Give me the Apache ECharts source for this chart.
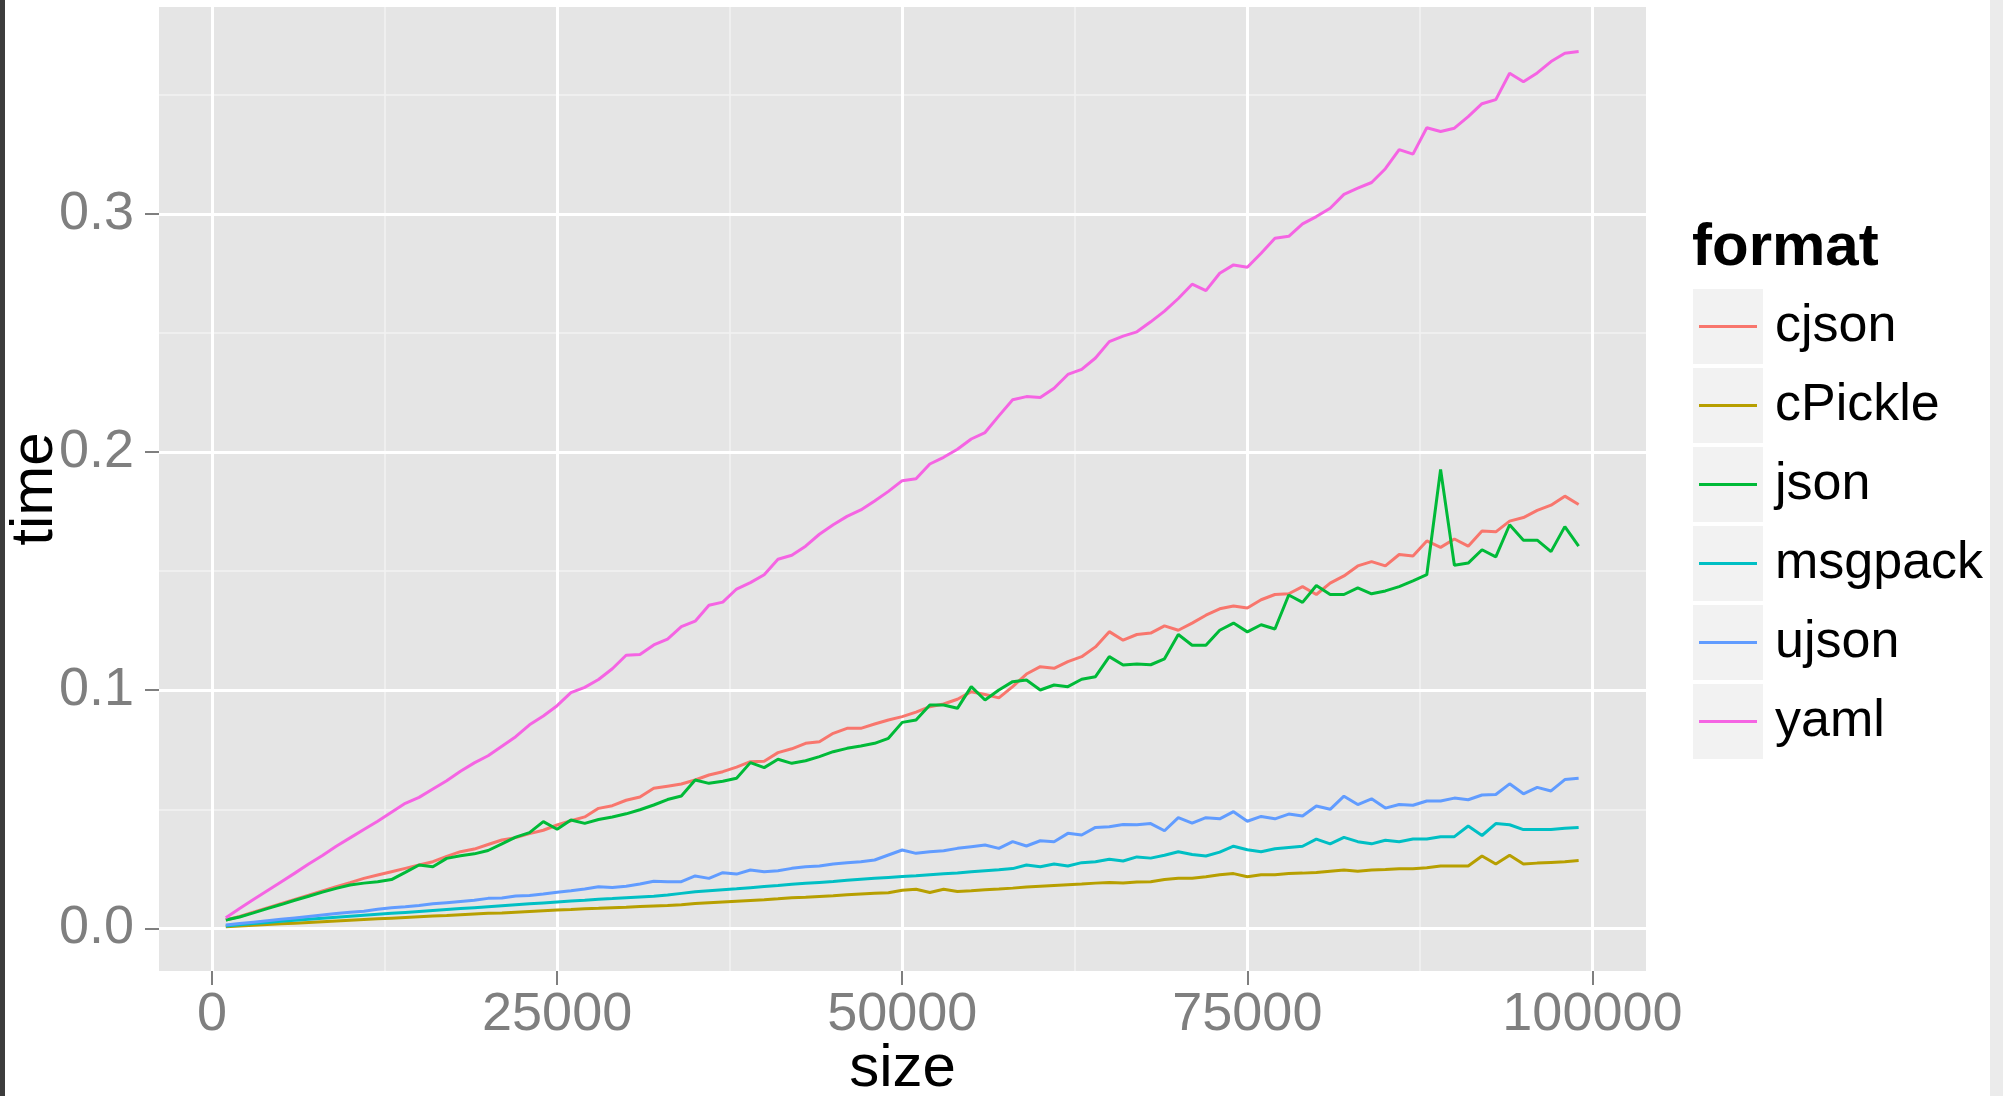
<!DOCTYPE html>
<html>
<head>
<meta charset="utf-8">
<script src="https://cdn.jsdelivr.net/npm/echarts@6/dist/echarts.min.js"></script>
<style>
html,body{margin:0;padding:0;background:#fff;}
#chart{width:2003px;height:1096px;}
</style>
</head>
<body>
<div id="chart"></div>
<script>
// ---- data ----
const sizes = [1000,2000,3000,4000,5000,6000,7000,8000,9000,10000,
11000,12000,13000,14000,15000,16000,17000,18000,19000,20000,
21000,22000,23000,24000,25000,26000,27000,28000,29000,30000,
31000,32000,33000,34000,35000,36000,37000,38000,39000,40000,
41000,42000,43000,44000,45000,46000,47000,48000,49000,50000,
51000,52000,53000,54000,55000,56000,57000,58000,59000,60000,
61000,62000,63000,64000,65000,66000,67000,68000,69000,70000,
71000,72000,73000,74000,75000,76000,77000,78000,79000,80000,
81000,82000,83000,84000,85000,86000,87000,88000,89000,90000,
91000,92000,93000,94000,95000,96000,97000,98000,99000];

const formats = ['cjson','cPickle','json','msgpack','ujson','yaml'];

const cjson = [0.0035,0.005,0.0068,0.0086,0.0104,0.0122,0.0139,0.0157,0.0175,0.0192,
0.021,0.0224,0.0238,0.0252,0.0266,0.028,0.0302,0.0322,0.0333,0.0352,
0.0371,0.0381,0.0398,0.0412,0.0434,0.0452,0.0468,0.0504,0.0515,0.0538,
0.0552,0.0588,0.0597,0.0606,0.0623,0.0644,0.0658,0.0677,0.07,0.0702,
0.0738,0.0754,0.0777,0.0784,0.0819,0.084,0.084,0.0858,0.0875,0.0889,
0.0908,0.0931,0.0942,0.0962,0.0994,0.0982,0.0968,0.1015,0.1068,0.1099,
0.1092,0.112,0.1141,0.1182,0.1246,0.121,0.1234,0.124,0.127,0.1252,
0.1282,0.1315,0.1342,0.1354,0.1345,0.138,0.1402,0.1405,0.1435,0.1402,
0.145,0.148,0.1522,0.154,0.1522,0.157,0.1564,0.1627,0.16,0.1635,
0.1605,0.1669,0.1665,0.171,0.1725,0.1755,0.1777,0.1815,0.178];

const cPickle = [0.0007,0.001,0.0013,0.0016,0.0019,0.0022,0.0025,0.0028,0.0031,0.0034,
0.0037,0.004,0.0043,0.0046,0.0049,0.0052,0.0054,0.0057,0.006,0.0063,
0.0065,0.0068,0.0071,0.0074,0.0077,0.0079,0.0082,0.0084,0.0087,0.0089,
0.0092,0.0094,0.0096,0.0099,0.0104,0.0108,0.0111,0.0114,0.0117,0.012,
0.0124,0.0129,0.0131,0.0134,0.0137,0.0141,0.0144,0.0147,0.015,0.016,
0.0164,0.0151,0.0164,0.0155,0.0158,0.0162,0.0165,0.0169,0.0174,0.0177,
0.018,0.0183,0.0186,0.019,0.0193,0.0191,0.0195,0.0196,0.0205,0.021,
0.021,0.0217,0.0225,0.023,0.0217,0.0225,0.0225,0.023,0.0232,0.0235,
0.024,0.0245,0.024,0.0245,0.0247,0.025,0.025,0.0255,0.0262,0.0262,
0.0262,0.0304,0.027,0.0307,0.027,0.0274,0.0277,0.028,0.0285];

const json = [0.0035,0.0048,0.0065,0.0083,0.01,0.0118,0.0135,0.0152,0.0168,0.0182,
0.019,0.0196,0.0205,0.0235,0.0266,0.0259,0.0294,0.0305,0.0313,0.0327,
0.0355,0.0383,0.0402,0.0448,0.0416,0.0455,0.0441,0.0457,0.0468,0.0481,
0.0498,0.0518,0.0541,0.0556,0.0623,0.0609,0.0618,0.063,0.0696,0.0675,
0.071,0.0693,0.0704,0.0721,0.0742,0.0756,0.0766,0.0777,0.0798,0.0865,
0.0875,0.0938,0.0938,0.0924,0.1015,0.0959,0.1001,0.1036,0.1043,0.1001,
0.1022,0.1015,0.1046,0.1057,0.1141,0.1106,0.111,0.1107,0.1132,0.1234,
0.1189,0.1189,0.1252,0.1282,0.1245,0.1275,0.1257,0.14,0.1369,0.144,
0.1402,0.1402,0.143,0.1405,0.1417,0.1435,0.1459,0.1485,0.1927,0.1525,
0.1534,0.159,0.156,0.1695,0.163,0.163,0.1582,0.1687,0.1605];

const msgpack = [0.001,0.0015,0.002,0.0025,0.003,0.0034,0.0038,0.0043,0.0047,0.0051,
0.0055,0.0059,0.0063,0.0067,0.0071,0.0075,0.0079,0.0083,0.0087,0.0091,
0.0095,0.0099,0.0103,0.0107,0.0111,0.0115,0.0118,0.0122,0.0125,0.0129,
0.0132,0.0135,0.014,0.0147,0.0154,0.0158,0.0162,0.0166,0.0171,0.0176,
0.018,0.0185,0.0189,0.0193,0.0197,0.0202,0.0206,0.021,0.0214,0.0218,
0.0221,0.0225,0.0229,0.0233,0.0238,0.0242,0.0246,0.0251,0.0266,0.0259,
0.027,0.0262,0.0276,0.028,0.029,0.0283,0.03,0.0295,0.0307,0.0322,
0.031,0.0304,0.032,0.0345,0.033,0.0322,0.0334,0.034,0.0345,0.0375,
0.0355,0.0382,0.0364,0.0355,0.037,0.0364,0.0375,0.0375,0.0385,0.0385,
0.043,0.039,0.044,0.0435,0.0415,0.0415,0.0415,0.042,0.0424];

const ujson = [0.0014,0.002,0.0026,0.0032,0.0038,0.0044,0.005,0.0056,0.0062,0.0068,
0.0072,0.008,0.0087,0.0091,0.0096,0.0103,0.0108,0.0113,0.0118,0.0126,
0.0128,0.0136,0.0138,0.0144,0.0152,0.0158,0.0165,0.0175,0.0172,0.0177,
0.0186,0.0198,0.0196,0.0196,0.022,0.021,0.0234,0.0228,0.0245,0.0238,
0.0242,0.0252,0.0259,0.0262,0.027,0.0276,0.028,0.0287,0.0308,0.0329,
0.0315,0.0322,0.0326,0.0336,0.0343,0.035,0.0336,0.0364,0.0346,0.0368,
0.0364,0.0399,0.0392,0.0424,0.0427,0.0436,0.0435,0.044,0.041,0.0465,
0.0442,0.0465,0.046,0.049,0.045,0.047,0.046,0.048,0.0472,0.0514,
0.05,0.0555,0.052,0.0544,0.0505,0.052,0.0517,0.0535,0.0535,0.0547,
0.054,0.056,0.0562,0.0607,0.0565,0.0592,0.0577,0.0625,0.063];

const yaml = [0.0045,0.0083,0.0121,0.0158,0.0195,0.0232,0.027,0.0306,0.0345,0.038,
0.0415,0.045,0.0488,0.0525,0.055,0.0585,0.062,0.066,0.0695,0.0725,
0.0765,0.0805,0.0855,0.0892,0.0935,0.099,0.1012,0.1045,0.109,0.1147,
0.115,0.119,0.1215,0.1267,0.129,0.1357,0.137,0.1425,0.1452,0.1485,
0.155,0.1567,0.1605,0.1655,0.1695,0.173,0.1757,0.1795,0.1835,0.188,
0.1888,0.195,0.1978,0.2012,0.2055,0.2082,0.2152,0.222,0.2233,0.2229,
0.2268,0.2326,0.2347,0.2395,0.2464,0.2487,0.2505,0.2547,0.2592,0.2645,
0.2705,0.2678,0.2751,0.2786,0.2776,0.2835,0.2898,0.2906,0.2958,0.2989,
0.3024,0.3082,0.3108,0.3132,0.319,0.327,0.3251,0.3362,0.3346,0.336,
0.3409,0.3463,0.348,0.3591,0.3555,0.3592,0.364,0.3675,0.3682];

const xTicks = [0, 25000, 50000, 75000, 100000];
const xMinorTicks = [12500, 37500, 62500, 87500];
const yTicks = [0.0, 0.1, 0.2, 0.3];
const yMinorTicks = [0.05, 0.15, 0.25, 0.35];

// ---- chart ----
const values = {cjson, cPickle, json, msgpack, ujson, yaml};
const colors = ['#F8766D','#B79F00','#00BA38','#00BFC4','#619CFF','#F564E3'];
const FONT = "'Liberation Sans', Arial, sans-serif";
const GREY = '#7F7F7F';

const chart = echarts.init(document.getElementById('chart'), null, {renderer:'canvas'});

const xRange = {min: -3840, max: 103880};
const yRange = {min: -0.0179, max: 0.3869};

const keyRects = formats.map((f, i) => ({
  type: 'rect',
  shape: {x: 1693, y: 289 + i * 79, width: 70, height: 75},
  style: {fill: '#F2F2F2'},
  z: 0
}));

chart.setOption({
  animation: false,
  backgroundColor: '#FFFFFF',
  color: colors,
  title: {
    text: 'format', left: 1692, top: 218, padding: 0,
    textStyle: {fontSize: 60, fontWeight: 'bold', color: '#000', fontFamily: FONT}
  },
  graphic: [
    {type:'rect', shape:{x:0, y:0, width:5, height:1096}, style:{fill:'#3c3c3c'}},
    {type:'rect', shape:{x:1990, y:0, width:13, height:1096}, style:{fill:'#EBEBEB'}}
  ].concat(keyRects),
  legend: {
    orient: 'vertical', left: 1699, top: 287, padding: 0, itemGap: 0,
    itemWidth: 58, itemHeight: 3, icon: 'rect',
    data: formats,
    textStyle: {fontSize: 52, lineHeight: 79, padding: [0,0,0,13], color: '#000', fontFamily: FONT}
  },
  grid: {
    left: 159, right: 357, top: 7, bottom: 125,
    show: true, backgroundColor: '#E5E5E5', borderWidth: 0,
    containLabel: false, outerBoundsMode: 'none'
  },
  xAxis: [
    {
      type: 'value', min: xRange.min, max: xRange.max,
      name: 'size', nameLocation: 'middle', nameGap: 68, nameMoveOverlap: false,
      nameTextStyle: {fontSize: 60, color: '#000', fontFamily: FONT},
      axisLine: {show: false, onZero: false},
      axisTick: {show: true, length: 14, customValues: xTicks, lineStyle: {color: GREY, width: 2}},
      axisLabel: {customValues: xTicks, margin: 17, fontSize: 54, color: GREY, fontFamily: FONT,
        formatter: v => String(v)},
      splitLine: {show: true, lineStyle: {color: '#FFFFFF', width: 3}},
      z: 3
    },
    {
      type: 'value', min: xRange.min, max: xRange.max,
      axisLine: {show: false, onZero: false},
      axisTick: {show: false, customValues: xMinorTicks},
      axisLabel: {show: false, customValues: xMinorTicks},
      splitLine: {show: true, lineStyle: {color: '#F2F2F2', width: 1.5}}
    }
  ],
  yAxis: [
    {
      type: 'value', min: yRange.min, max: yRange.max,
      name: 'time', nameLocation: 'middle', nameGap: 94, nameMoveOverlap: false,
      nameTextStyle: {fontSize: 60, color: '#000', fontFamily: FONT},
      axisLine: {show: false, onZero: false},
      axisTick: {show: true, length: 14, customValues: yTicks, lineStyle: {color: GREY, width: 2}},
      axisLabel: {customValues: yTicks, margin: 25, fontSize: 54, color: GREY, fontFamily: FONT,
        formatter: v => Number(v).toFixed(1)},
      splitLine: {show: true, lineStyle: {color: '#FFFFFF', width: 3}},
      z: 3
    },
    {
      type: 'value', min: yRange.min, max: yRange.max,
      axisLine: {show: false, onZero: false},
      axisTick: {show: false, customValues: yMinorTicks},
      axisLabel: {show: false, customValues: yMinorTicks},
      splitLine: {show: true, lineStyle: {color: '#F2F2F2', width: 1.5}}
    }
  ],
  series: formats.map((f, i) => ({
    name: f,
    type: 'line',
    xAxisIndex: 0, yAxisIndex: 0,
    showSymbol: false, symbol: 'none',
    lineStyle: {width: 3, color: colors[i]},
    itemStyle: {color: colors[i]},
    data: sizes.map((s, j) => [s, values[f][j]]),
    z: 5
  }))
});
</script>
</body>
</html>
